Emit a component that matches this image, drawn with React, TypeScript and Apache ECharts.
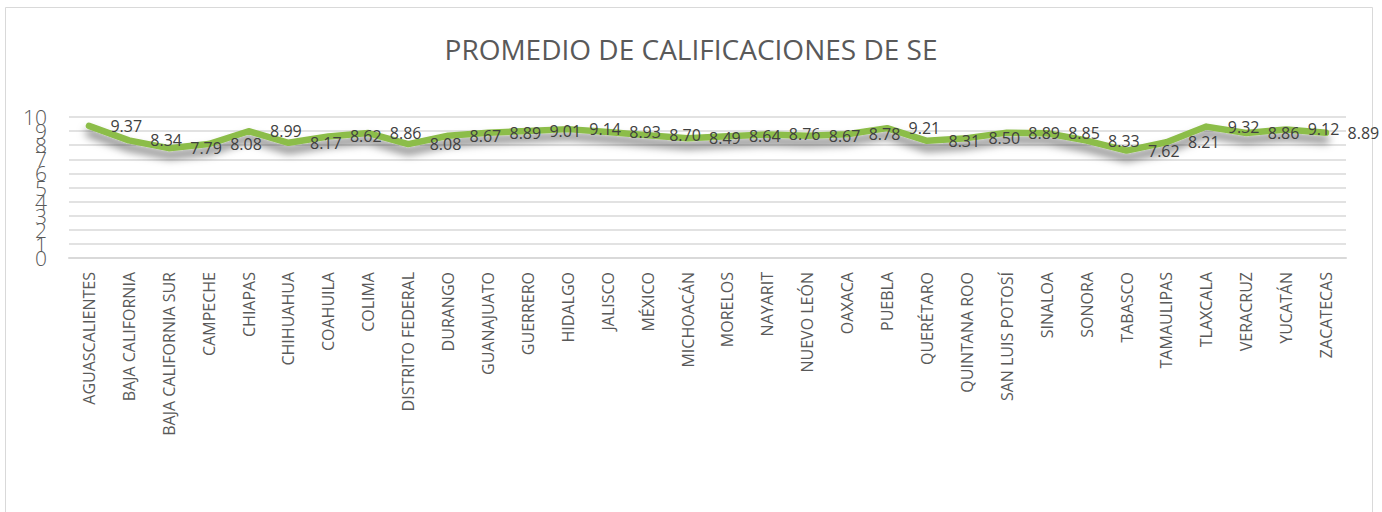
import React, { useEffect, useRef } from "react";
import * as echarts from "echarts";

const TITLE = "PROMEDIO DE CALIFICACIONES DE SE";

const states: string[] = [
  "AGUASCALIENTES", "BAJA CALIFORNIA", "BAJA CALIFORNIA SUR", "CAMPECHE", "CHIAPAS",
  "CHIHUAHUA", "COAHUILA", "COLIMA", "DISTRITO FEDERAL", "DURANGO", "GUANAJUATO",
  "GUERRERO", "HIDALGO", "JALISCO", "MÉXICO", "MICHOACÁN", "MORELOS", "NAYARIT",
  "NUEVO LEÓN", "OAXACA", "PUEBLA", "QUERÉTARO", "QUINTANA ROO", "SAN LUIS POTOSÍ",
  "SINALOA", "SONORA", "TABASCO", "TAMAULIPAS", "TLAXCALA", "VERACRUZ", "YUCATÁN",
  "ZACATECAS",
];

const promedios: number[] = [
  9.37, 8.34, 7.79, 8.08, 8.99, 8.17, 8.62, 8.86, 8.08, 8.67, 8.89,
  9.01, 9.14, 8.93, 8.70, 8.49, 8.64, 8.76, 8.67, 8.78, 9.21, 8.31,
  8.50, 8.89, 8.85, 8.33, 7.62, 8.21, 9.32, 8.86, 9.12, 8.89,
];

const yMin = 0;
const yMax = 10;
const yStep = 1;

export default function App() {
  const ref = useRef<HTMLDivElement>(null);
  useEffect(() => {
    if (!ref.current) return;
    const chart = echarts.init(ref.current, undefined, { renderer: "svg" });
    const font = "'Open Sans', sans-serif";
    const yLabelBase = {
      margin: 22,
      showMinLabel: true,
      showMaxLabel: true,
      hideOverlap: false,
      fontFamily: font,
      fontSize: 21,
      fontWeight: 300,
      color: "#595959",
    };
    const yBase = {
      type: "value",
      min: yMin,
      max: yMax,
      interval: yStep,
      position: "left",
      axisLine: { show: false },
      axisTick: { show: false },
    };
    chart.setOption({
      animation: false,
      backgroundColor: "#ffffff",
      title: {
        text: TITLE,
        left: "center",
        top: 30,
        textStyle: { fontFamily: font, fontSize: 28, fontWeight: "normal", color: "#595959" },
      },
      graphic: [
        {
          type: "rect",
          shape: { x: 5.5, y: 7.5, width: 1367, height: 520 },
          style: { fill: "none", stroke: "#d9d9d9", lineWidth: 1 },
          silent: true,
          z: -1,
        },
      ],
      grid: { left: 69, right: 36, top: 117, bottom: 254, containLabel: false },
      xAxis: {
        type: "category",
        data: states,
        boundaryGap: true,
        axisLine: { show: true, lineStyle: { color: "#d9d9d9", width: 2 } },
        axisTick: { show: false },
        axisLabel: {
          rotate: 90,
          interval: 0,
          margin: 14,
          fontFamily: font,
          fontSize: 16,
          color: "#595959",
        },
      },
      yAxis: [
        {
          ...yBase,
          splitLine: { lineStyle: { color: "#d9d9d9", width: 1.5 } },
          axisLabel: {
            ...yLabelBase,
            formatter: (v: number) => (Math.round(v) % 2 === 0 ? String(v) : ""),
          },
        },
        {
          ...yBase,
          splitLine: { show: false },
          axisLabel: {
            ...yLabelBase,
            formatter: (v: number) => (Math.round(v) % 2 === 1 ? String(v) : ""),
          },
        },
      ],
      series: [
        {
          type: "line",
          data: promedios,
          symbol: "circle",
          symbolSize: 1,
          showSymbol: true,
          itemStyle: { color: "rgba(0,0,0,0)", borderWidth: 0 },
          smooth: false,
          lineStyle: {
            color: "#8cbd4a",
            width: 6.5,
            cap: "round",
            join: "round",
            shadowColor: "rgba(0,0,0,0.55)",
            shadowBlur: 8,
            shadowOffsetY: 7,
          },
          labelLayout: { hideOverlap: false },
          label: {
            show: true,
            position: "right",
            distance: 21,
            formatter: (p: any) => Number(p.value).toFixed(2),
            fontFamily: font,
            fontSize: 16,
            color: "#404040",
          },
        },
      ],
    });
    return () => chart.dispose();
  }, []);
  return (
    <div
      ref={ref}
      style={{ position: "absolute", left: 0, top: 0, width: 1382, height: 512 }}
    />
  );
}
